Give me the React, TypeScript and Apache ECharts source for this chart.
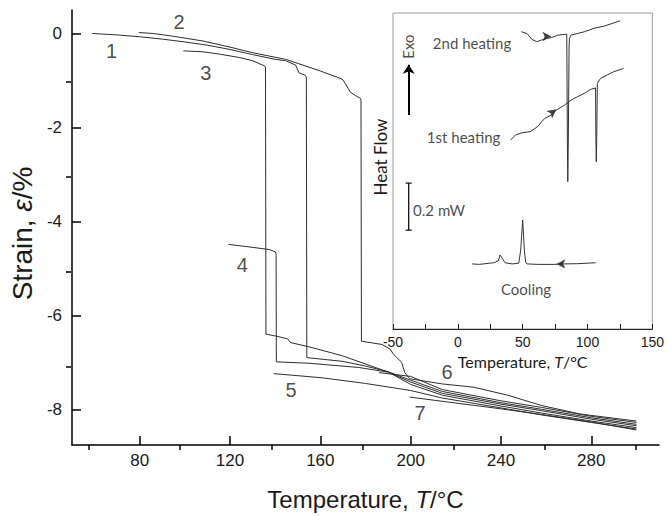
import React, { useEffect, useRef } from 'react';
import * as echarts from 'echarts';

// ---------- main chart data (Temperature °C, Strain %) ----------
const curve1: [number, number][] = [
  [59, 0], [70, -0.03], [80, -0.07], [90, -0.12], [100, -0.18], [110, -0.25], [120, -0.34],
  [130, -0.45], [140, -0.55], [144.6, -0.58], [149, -0.67], [150.6, -0.84], [153.4, -0.89],
  [153.8, -0.93], [154, -6.9], [162, -6.94], [170, -6.98], [180, -7.08], [190, -7.2],
  [200, -7.38], [214, -7.62], [240, -7.86], [258, -8.0], [280, -8.18], [300, -8.32],
];
const curve2: [number, number][] = [
  [79.6, 0.02], [86, 0], [95, -0.06], [108, -0.16], [120, -0.29], [130, -0.41], [144.6, -0.55],
  [159.5, -0.79], [169.7, -0.97], [171.1, -1.07], [173.3, -1.25], [175.5, -1.32], [177.7, -1.38],
  [178, -1.42], [178.2, -6.55], [187.3, -6.62], [190.9, -6.72], [192.4, -6.83], [196, -7.0],
  [197.4, -7.22], [199.6, -7.35], [214, -7.46], [228, -7.53], [243, -7.7], [258, -7.92],
  [275, -8.1], [300, -8.25],
];
const curve3: [number, number][] = [
  [99.3, -0.37], [108, -0.39], [115.5, -0.44], [124, -0.51], [130, -0.58], [135.3, -0.69],
  [135.7, -0.72], [135.9, -6.4], [140.2, -6.44], [145.5, -6.5], [146.8, -6.58], [155, -6.67],
  [169.7, -6.86], [190.2, -7.21], [200, -7.42], [214, -7.66], [240, -7.89], [258, -8.03],
  [280, -8.21], [300, -8.35],
];
const curve4: [number, number][] = [
  [119.4, -4.49], [128, -4.54], [137.5, -4.6], [140.1, -4.65], [140.4, -4.7], [140.5, -6.99],
  [155, -7.02], [177, -7.11], [190.2, -7.21], [200, -7.47], [214, -7.7], [240, -7.93],
  [258, -8.08], [280, -8.25], [300, -8.39],
];
const curve5: [number, number][] = [
  [139.3, -7.24], [160.9, -7.33], [180, -7.45], [200, -7.6], [214, -7.76], [240, -7.97],
  [258, -8.12], [280, -8.28], [300, -8.42],
];
const curve6: [number, number][] = [
  [186, -7.22], [200, -7.3], [214, -7.58], [240, -7.82], [258, -7.96], [280, -8.15], [300, -8.28],
];
const curve7: [number, number][] = [
  [199.6, -7.74], [214, -7.83], [240, -7.99], [258, -8.11], [280, -8.27], [300, -8.44],
];
const mainCurves = [curve1, curve2, curve3, curve4, curve5, curve6, curve7];

const curveLabelNames = ['1', '2', '3', '4', '5', '6', '7'];
const curveLabelT = [67.7, 97.6, 109.5, 125.7, 147.3, 216.3, 204.4];
const curveLabelV = [-0.38, 0.23, -0.86, -4.93, -7.6, -7.22, -8.08];

const xMajorTicks = [80, 120, 160, 200, 240, 280];
const xMinorTicks = [60, 100, 140, 180, 220, 260, 300];
const yMajorTicks = [0, -2, -4, -6, -8];
const yMinorTicks = [-1, -3, -5, -7];

// ---------- inset DSC data (Temperature °C, heat flow mW, offset) ----------
const heating2: [number, number][] = [
  [49, 1.265], [53.3, 1.258], [57, 1.233], [60.8, 1.223], [64.6, 1.23], [68.4, 1.237],
  [72.2, 1.24], [77.3, 1.251], [82.3, 1.254], [84, 1.255], [84.5, 0.8], [84.8, 0.627],
  [85.2, 0.8], [85.8, 1.2], [86.1, 1.237], [87.3, 1.251], [92.4, 1.258], [97.5, 1.265],
  [105.1, 1.28], [112.7, 1.289], [117.7, 1.298], [125.2, 1.312],
];
const heating1: [number, number][] = [
  [40.7, 0.804], [44.5, 0.826], [49.5, 0.835], [55.8, 0.84], [59.6, 0.854], [62.1, 0.864],
  [64.6, 0.882], [67.2, 0.897], [72.2, 0.911], [76, 0.932], [82.3, 0.953], [87.3, 0.974],
  [92.4, 0.989], [97.5, 1.003], [102.5, 1.02], [106.2, 1.026], [106.5, 0.8], [106.8, 0.712],
  [107.1, 0.8], [107.6, 1.046], [110.1, 1.067], [115.2, 1.081], [120.2, 1.095], [127.8, 1.109],
];
const cooling: [number, number][] = [
  [11.1, 0.277], [16.7, 0.275], [24.2, 0.28], [28, 0.282], [31.3, 0.291], [32.6, 0.315],
  [34.3, 0.301], [36.4, 0.282], [41.9, 0.277], [47, 0.28], [48.5, 0.336], [50, 0.464],
  [51.3, 0.336], [52.3, 0.285], [53.3, 0.277], [62.1, 0.275], [74.8, 0.275], [82.3, 0.277],
  [92.4, 0.278], [106.3, 0.282],
];
const arrowT = [72.2, 76, 76];
const arrowV = [1.245, 0.935, 0.277];
const arrowRotation = [-90, -53, 90];

const scaleBar: [number, number][] = [
  [-40.2, 0.621], [-35.6, 0.621], [-37.9, 0.621], [-37.9, 0.421], [-40.2, 0.421], [-35.6, 0.421],
];
const exoArrow: [number, number][] = [[-37.9, 0.911], [-37.9, 1.125]];

const insetTextNames = ['2nd heating', '1st heating', '0.2 mW', 'Cooling'];
const insetTextT = [-18.9, -23.5, -34.1, 53];
const insetTextV = [1.217, 0.813, 0.506, 0.166];
const insetTextAlign = ['left', 'left', 'left', 'center'];

const MAIN_FONT = '"Liberation Sans", Arial, sans-serif';
const INSET_FONT = 'Lato, "Open Sans", sans-serif';
const INK = '#1a1a1a';

export default function App() {
  const ref = useRef<HTMLDivElement>(null);
  useEffect(() => {
    const chart = echarts.init(ref.current!, null, { renderer: 'svg' });
    const series: any[] = [];
    mainCurves.forEach((c, i) => {
      series.push({
        type: 'line', name: 'curve' + (i + 1), xAxisIndex: 0, yAxisIndex: 0, data: c,
        symbol: 'none', showSymbol: false, silent: true,
        lineStyle: { color: '#2e2e2e', width: 1 },
      });
    });
    series.push({
      type: 'scatter', xAxisIndex: 0, yAxisIndex: 0, symbolSize: 1, silent: true,
      itemStyle: { color: 'rgba(0,0,0,0)' },
      data: curveLabelNames.map((n, i) => ({ name: n, value: [curveLabelT[i], curveLabelV[i]] })),
      label: {
        show: true, position: [0, 0], formatter: '{b}', align: 'center', verticalAlign: 'middle',
        fontSize: 20, fontFamily: MAIN_FONT, color: INK,
      },
    });
    [heating2, heating1, cooling].forEach((c) => {
      series.push({
        type: 'line', xAxisIndex: 2, yAxisIndex: 2, data: c, symbol: 'none', silent: true,
        lineStyle: { color: '#333', width: 1 },
      });
    });
    series.push({
      type: 'scatter', xAxisIndex: 2, yAxisIndex: 2, symbol: 'arrow', symbolSize: [7, 9], silent: true,
      itemStyle: { color: '#111' },
      data: arrowT.map((t, i) => ({ value: [t, arrowV[i]], symbolRotate: arrowRotation[i] })),
    });
    series.push({
      type: 'line', xAxisIndex: 2, yAxisIndex: 2, data: scaleBar, symbol: 'none', silent: true,
      lineStyle: { color: '#111', width: 1.3 },
    });
    series.push({
      type: 'lines', coordinateSystem: 'cartesian2d', xAxisIndex: 2, yAxisIndex: 2, silent: true,
      symbol: ['none', 'arrow'], symbolSize: 9,
      lineStyle: { color: '#000', width: 2, opacity: 1 },
      data: [{ coords: exoArrow }],
    });
    series.push({
      type: 'scatter', xAxisIndex: 2, yAxisIndex: 2, symbolSize: 1, silent: true,
      itemStyle: { color: 'rgba(0,0,0,0)' },
      data: insetTextNames.map((n, i) => ({
        name: n, value: [insetTextT[i], insetTextV[i]],
        label: { align: insetTextAlign[i] },
      })),
      label: {
        show: true, position: [0, 0], formatter: '{b}', verticalAlign: 'middle',
        fontSize: 15, fontFamily: INSET_FONT, color: INK,
      },
    });
    series.push({
      type: 'scatter', xAxisIndex: 2, yAxisIndex: 2, symbolSize: 1, silent: true,
      itemStyle: { color: 'rgba(0,0,0,0)' },
      data: [{ name: 'Exo', value: [-38.2, 1.2] }],
      label: {
        show: true, position: [0, 0], formatter: '{b}', rotate: 90, align: 'center', verticalAlign: 'middle',
        fontSize: 15, fontFamily: INSET_FONT, color: INK,
      },
    });

    const noLine = { show: false, onZero: false };
    const option: any = {
      animation: false,
      backgroundColor: '#fff',
      grid: [
        { left: 66, right: 8, top: 10, bottom: 66 },
        { left: 393, right: 11, top: 13, bottom: 187, show: true, backgroundColor: '#fff', borderColor: '#9a9a9a', borderWidth: 1 },
        { left: 66, right: 8, top: 10, bottom: 66 },
      ],
      xAxis: [
        {
          gridIndex: 0, type: 'value', min: 50, max: 310, position: 'bottom',
          axisLine: { onZero: false, lineStyle: { color: '#000', width: 1.5 } },
          axisTick: { inside: true, length: 9, customValues: xMajorTicks, lineStyle: { color: '#000', width: 1.5 } },
          axisLabel: { customValues: xMajorTicks, fontSize: 17, fontFamily: MAIN_FONT, color: INK, margin: 7 },
          splitLine: { show: false },
          name: 'Temperature, {i|T}/°C', nameLocation: 'middle', nameGap: 42,
          nameTextStyle: {
            fontSize: 24, fontFamily: MAIN_FONT, color: INK,
            rich: { i: { fontStyle: 'italic', fontSize: 24, fontFamily: MAIN_FONT, color: INK } },
          },
        },
        {
          gridIndex: 2, type: 'value', min: 50, max: 310, position: 'bottom',
          axisLine: noLine,
          axisTick: { inside: true, length: 5, customValues: xMinorTicks, lineStyle: { color: '#000', width: 1.5 } },
          axisLabel: { show: false }, splitLine: { show: false },
        },
        {
          gridIndex: 1, type: 'value', min: -50, max: 150, interval: 50, position: 'bottom',
          axisLine: { onZero: false, lineStyle: { color: '#222', width: 1.2 } },
          axisTick: { inside: true, length: 5, lineStyle: { color: '#222' } },
          minorTick: { show: true, splitNumber: 2, length: 5, lineStyle: { color: '#222' } },
          axisLabel: { fontSize: 14, fontFamily: MAIN_FONT, color: INK, margin: 6 },
          splitLine: { show: false },
          name: 'Temperature, {i|T}/°C', nameLocation: 'middle', nameGap: 24,
          nameTextStyle: {
            fontSize: 16, fontFamily: INSET_FONT, color: INK,
            rich: { i: { fontStyle: 'italic', fontSize: 16, fontFamily: INSET_FONT, color: INK } },
          },
        },
      ],
      yAxis: [
        {
          gridIndex: 0, type: 'value', min: -8.76, max: 0.5, position: 'left',
          axisLine: { show: true, onZero: false, lineStyle: { color: '#000', width: 1.5 } },
          axisTick: { show: true, inside: true, length: 9, customValues: yMajorTicks, lineStyle: { color: '#000', width: 1.5 } },
          axisLabel: { customValues: yMajorTicks, fontSize: 17, fontFamily: MAIN_FONT, color: INK, margin: 10 },
          splitLine: { show: false },
          name: 'Strain, {i|ε}/%', nameLocation: 'middle', nameGap: 30,
          nameTextStyle: {
            fontSize: 28, fontFamily: MAIN_FONT, color: INK, padding: [0, 12, 0, 0],
            rich: { i: { fontStyle: 'italic', fontSize: 28, fontFamily: MAIN_FONT, color: INK } },
          },
        },
        {
          gridIndex: 2, type: 'value', min: -8.76, max: 0.5, position: 'left',
          axisLine: noLine,
          axisTick: { show: true, inside: true, length: 5, customValues: yMinorTicks, lineStyle: { color: '#000', width: 1.5 } },
          axisLabel: { show: false }, splitLine: { show: false },
        },
        {
          gridIndex: 1, type: 'value', min: 0, max: 1.345,
          axisLine: noLine, axisTick: { show: false }, axisLabel: { show: false },
          splitLine: { show: false },
        },
      ],
      graphic: [
        {
          type: 'text', x: 380, y: 157, rotation: Math.PI / 2,
          style: { text: 'Heat Flow', font: '17px Lato, "Open Sans", sans-serif', fill: INK, align: 'center', verticalAlign: 'middle' },
        },
      ],
      series,
    };
    chart.setOption(option);
    return () => chart.dispose();
  }, []);
  return (
    <div
      ref={ref}
      style={{ position: 'fixed', left: 0, top: 0, width: 667, height: 516, background: '#fff' }}
    />
  );
}
